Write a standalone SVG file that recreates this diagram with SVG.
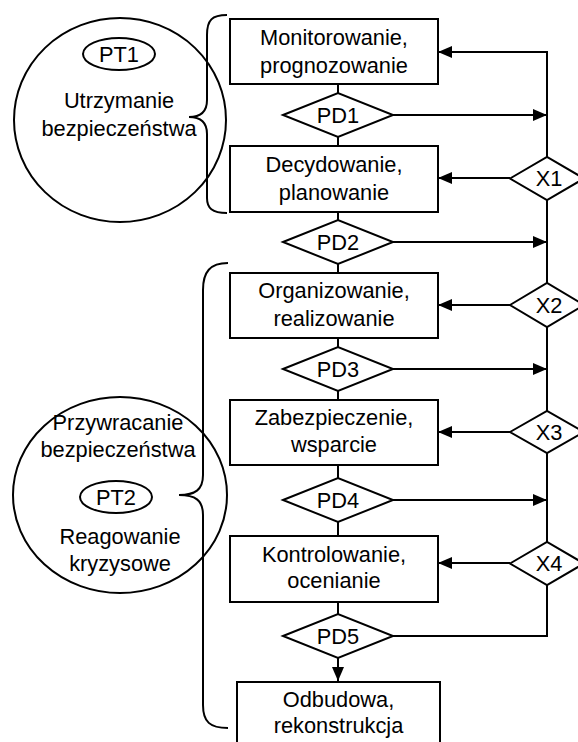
<svg xmlns="http://www.w3.org/2000/svg" width="578" height="742" viewBox="0 0 578 742">
<style>
  .box{fill:#fff;stroke:#000;stroke-width:2}
  .dia{fill:#fff;stroke:#000;stroke-width:2}
  .ln{fill:none;stroke:#000;stroke-width:2}
  .arr{fill:none;stroke:#000;stroke-width:2;marker-end:url(#ah)}
  .br{fill:none;stroke:#000;stroke-width:2}
  text{font-family:"Liberation Sans",Arial,sans-serif;font-size:21.8px;fill:#000;text-anchor:middle}
</style>
<defs>
  <marker id="ah" markerUnits="userSpaceOnUse" markerWidth="14" markerHeight="12" refX="14" refY="6" orient="auto">
    <path d="M0,0 L14,6 L0,12 z" fill="#000"/>
  </marker>
</defs>
<rect width="578" height="742" fill="#fff"/>

<g id="connectors">
  <path class="ln" d="M338,84 L338,93 M338,137 L338,146 M338,212 L338,220 M338,264 L338,273 M338,338 L338,347 M338,391 L338,400 M338,465 L338,478 M338,522 L338,536 M338,602 L338,614"/>
  <path class="arr" d="M547,157 L547,52 L438,52"/>
  <path class="arr" d="M393,115 L547,115"/>
  <path class="arr" d="M510,178 L438,178"/>
  <path class="ln" d="M547,200 L547,283"/>
  <path class="arr" d="M393,242 L547,242"/>
  <path class="arr" d="M510,305 L438,305"/>
  <path class="ln" d="M547,327 L547,411"/>
  <path class="arr" d="M393,369 L547,369"/>
  <path class="arr" d="M510,432 L438,432"/>
  <path class="ln" d="M547,453 L547,542"/>
  <path class="arr" d="M393,500 L547,500"/>
  <path class="arr" d="M510,563 L438,563"/>
  <path class="ln" d="M547,585 L547,636 L393,636"/>
  <path class="arr" d="M338,658 L338,681"/>
</g>

<g id="pt1">
  <ellipse class="ln" cx="120" cy="120" rx="106" ry="102"/>
  <ellipse class="ln" cx="119" cy="54" rx="36" ry="16"/>
  <text x="119" y="61.5">PT1</text>
  <text x="119" y="108">Utrzymanie</text>
  <text x="119" y="136">bezpieczeństwa</text>
</g>
<g id="brace1">
  <path class="br" d="M227,15 C212,15 207,20 207,35 L207,100 C207,112 200,117 189,117 C200,117 207,122 207,134 L207,198 C207,208 212,213 227,213"/>
</g>

<g id="pt2">
  <ellipse class="ln" cx="120" cy="495" rx="107" ry="98"/>
  <text x="118" y="430">Przywracanie</text>
  <text x="118" y="457">bezpieczeństwa</text>
  <ellipse class="ln" cx="116" cy="497" rx="36" ry="16"/>
  <text x="116" y="504.5">PT2</text>
  <text x="120" y="544">Reagowanie</text>
  <text x="120" y="571">kryzysowe</text>
</g>
<g id="brace2">
  <path class="br" d="M228,263 C210,263 203,272 203,290 L203,475 C203,490 195,495 179,495 C195,495 203,500 203,515 L203,705 C203,722 210,728 228,728"/>
</g>

<g id="n1"><rect class="box" x="230" y="19" width="208" height="65"/><text x="334" y="45">Monitorowanie,</text><text x="334" y="73">prognozowanie</text></g>
<g id="pd1"><polygon class="dia" points="283,115 338,93 393,115 338,137"/><text x="338" y="122.5">PD1</text></g>
<g id="n2"><rect class="box" x="230" y="146" width="208" height="66"/><text x="334" y="172">Decydowanie,</text><text x="334" y="200">planowanie</text></g>
<g id="pd2"><polygon class="dia" points="283,242 338,220 393,242 338,264"/><text x="338" y="249.5">PD2</text></g>
<g id="n3"><rect class="box" x="230" y="273" width="208" height="65"/><text x="334" y="298">Organizowanie,</text><text x="334" y="326">realizowanie</text></g>
<g id="pd3"><polygon class="dia" points="283,369 338,347 393,369 338,391"/><text x="338" y="376.5">PD3</text></g>
<g id="n4"><rect class="box" x="230" y="400" width="208" height="65"/><text x="334" y="425">Zabezpieczenie,</text><text x="334" y="452">wsparcie</text></g>
<g id="pd4"><polygon class="dia" points="283,500 338,478 393,500 338,522"/><text x="338" y="507.5">PD4</text></g>
<g id="n5"><rect class="box" x="230" y="536" width="208" height="66"/><text x="334" y="562">Kontrolowanie,</text><text x="334" y="588">ocenianie</text></g>
<g id="pd5"><polygon class="dia" points="283,636 338,614 393,636 338,658"/><text x="338" y="643.5">PD5</text></g>
<g id="n6"><rect class="box" x="237" y="682" width="203" height="80"/><text x="338.5" y="707">Odbudowa,</text><text x="338.5" y="733">rekonstrukcja</text></g>

<g id="x1"><polygon class="dia" points="510,178.5 547,157 584,178.5 547,200"/><text x="549" y="186">X1</text></g>
<g id="x2"><polygon class="dia" points="510,305 547,283 584,305 547,327"/><text x="549" y="312.5">X2</text></g>
<g id="x3"><polygon class="dia" points="510,432 547,411 584,432 547,453"/><text x="549" y="439.5">X3</text></g>
<g id="x4"><polygon class="dia" points="510,563.5 547,542 584,563.5 547,585"/><text x="549" y="571">X4</text></g>
</svg>
